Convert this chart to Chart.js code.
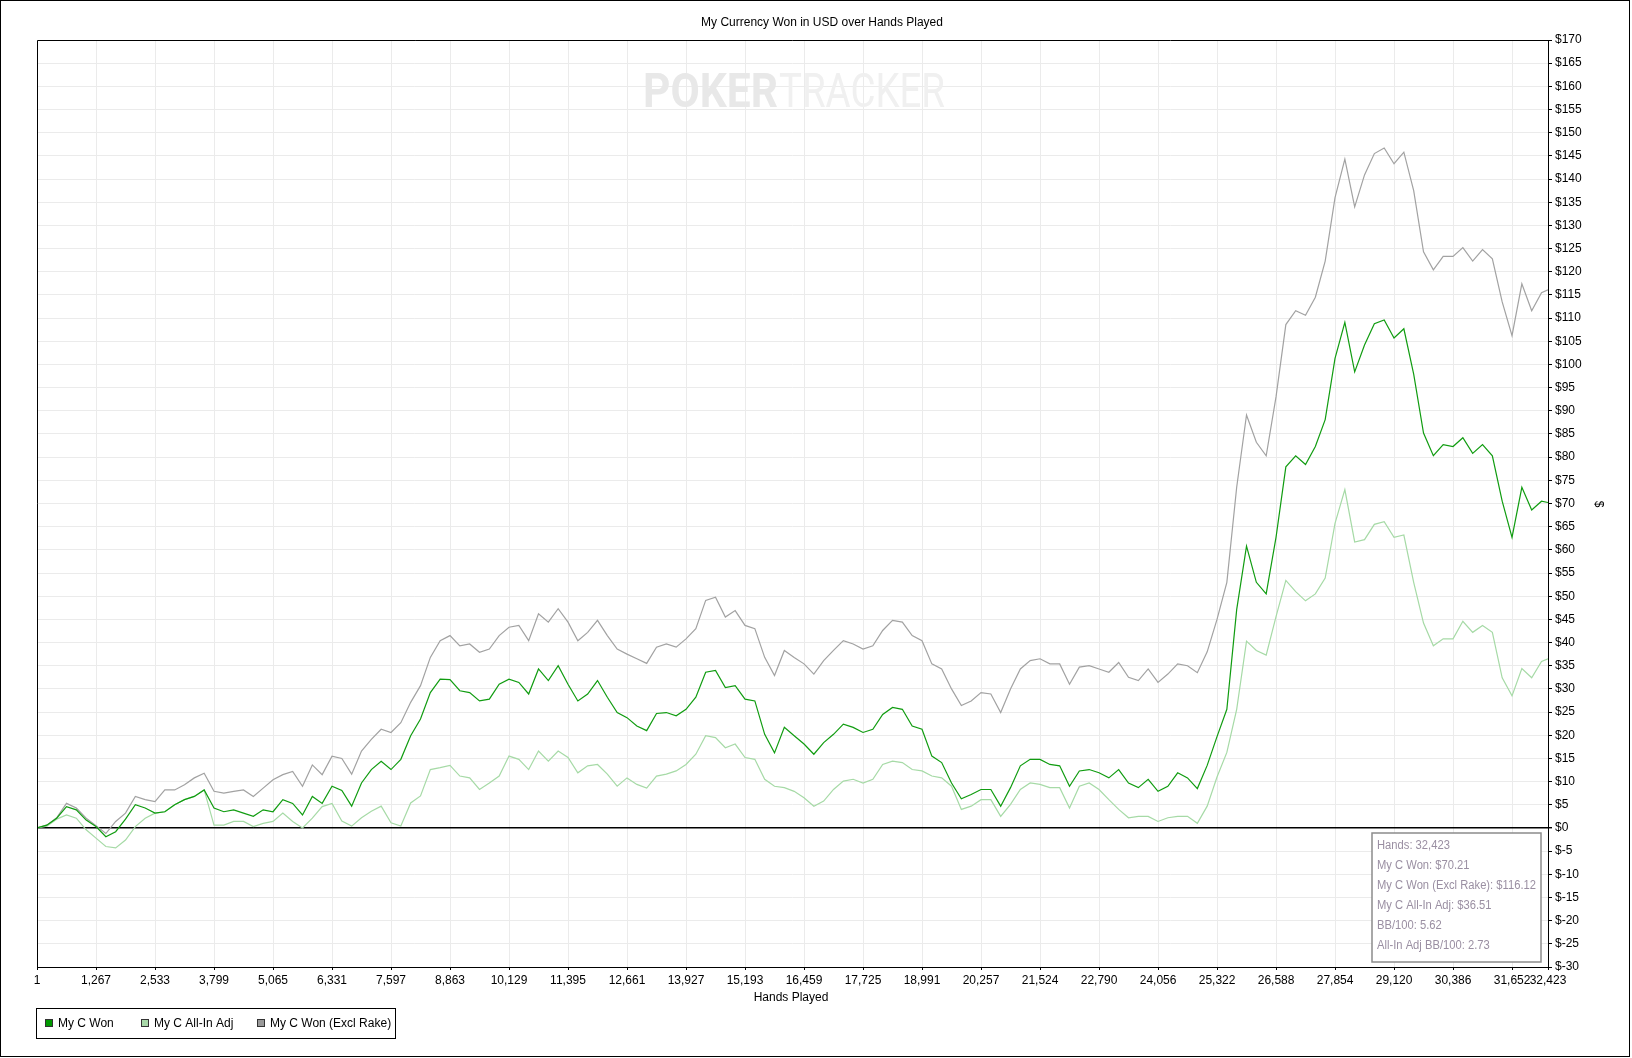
<!DOCTYPE html>
<html lang="en">
<head>
  <meta charset="UTF-8" />
  <title>My Currency Won in USD over Hands Played</title>
  <script src="https://cdn.jsdelivr.net/npm/chart.js"></script>
  <style>
    html, body { margin: 0; padding: 0; background: #fff; }
    #wrap { position: relative; width: 1632px; height: 1058px; }
  </style>
</head>
<body>
  <div id="wrap"><canvas id="chart"></canvas></div>

  <script>
    // hands are sampled every 211 hands, last point is the final hand
    const sampleStep = 211;
    const lastHand = 32423;

    const won = [
      0, 0.6, 2.1, 4.6, 3.9, 1.7, 0.3, -1.9, -0.8, 1.9,
      5.0, 4.3, 3.2, 3.5, 5.0, 6.1, 6.8, 8.2, 4.3, 3.5,
      3.9, 3.2, 2.5, 3.9, 3.5, 6.1, 5.3, 2.8, 6.8, 5.3,
      9.0, 8.1, 4.7, 9.7, 12.6, 14.4, 12.6, 14.8, 19.9, 23.5,
      29.2, 32.1, 32.0, 29.6, 29.2, 27.4, 27.8, 31.0, 32.1, 31.4,
      28.9, 34.3, 31.8, 35.0, 31.0, 27.4, 28.9, 31.8, 28.2, 24.9,
      23.8, 22.0, 21.0, 24.7, 24.9, 24.2, 25.6, 28.2, 33.6, 34.0,
      30.3, 30.7, 27.8, 27.4, 20.2, 16.2, 21.7, 19.9, 18.1, 15.9,
      18.4, 20.2, 22.4, 21.7, 20.6, 21.3, 24.5, 26.0, 25.6, 22.0,
      21.3, 15.5, 14.1, 9.7, 6.3, 7.2, 8.3, 8.3, 4.7, 8.7,
      13.4, 14.8, 14.8, 13.7, 13.4, 9.0, 12.3, 12.6, 11.9, 10.8,
      12.6, 9.7, 8.7, 10.5, 7.9, 9.0, 11.9, 10.8, 8.5, 13.5,
      19.7, 25.6, 47.1, 60.8, 53.0, 50.5, 62.7, 77.9, 80.3, 78.4,
      82.3, 88.1, 101.3, 109.1, 98.4, 104.2, 108.8, 109.6, 105.7, 107.7,
      97.9, 85.2, 80.3, 82.7, 82.3, 84.2, 80.8, 82.7, 80.3, 70.5,
      62.7, 73.5, 68.6, 70.5, 70.21
    ];

    const allInAdj = [
      0, 0.4, 1.9, 2.8, 2.1, -0.4, -2.2, -4.0, -4.3, -2.6,
      0.3, 2.1, 3.2, 3.5, 5.0, 6.1, 6.8, 8.2, 0.6, 0.6,
      1.4, 1.4, 0.3, 1.0, 1.4, 3.2, 1.4, 0.0, 2.1, 4.6,
      5.3, 1.5, 0.4, 2.2, 3.6, 4.7, 1.1, 0.4, 5.4, 6.9,
      12.6, 13.0, 13.5, 11.2, 10.8, 8.3, 9.7, 11.2, 15.5, 14.8,
      12.6, 16.6, 14.4, 16.6, 15.2, 11.9, 13.4, 13.7, 11.6, 9.0,
      10.8, 9.4, 8.6, 11.2, 11.6, 12.3, 13.7, 15.9, 19.9, 19.5,
      17.3, 18.1, 15.2, 14.8, 10.5, 9.0, 8.7, 7.9, 6.5, 4.7,
      5.8, 8.3, 10.1, 10.5, 9.7, 10.5, 13.7, 14.4, 14.1, 12.6,
      12.3, 11.2, 10.8, 9.0, 4.0, 4.7, 6.1, 6.1, 2.5, 5.1,
      8.3, 9.7, 9.4, 8.7, 8.7, 4.3, 9.0, 9.7, 8.3, 6.1,
      4.0, 2.2, 2.5, 2.5, 1.4, 2.2, 2.5, 2.5, 1.0, 4.7,
      11.0, 16.3, 25.6, 40.3, 38.3, 37.3, 45.6, 53.4, 51.0, 49.0,
      50.5, 53.9, 65.7, 73.0, 61.7, 62.2, 65.5, 66.1, 62.7, 63.2,
      53.0, 44.2, 39.3, 40.8, 40.8, 44.6, 42.2, 43.7, 42.2, 32.4,
      28.5, 34.4, 32.4, 35.9, 36.51
    ];

    const wonExclRake = [
      0, 0.6, 2.2, 5.3, 4.3, 2.1, 0.5, -1.2, 1.4, 3.2,
      6.8, 6.1, 5.7, 8.2, 8.2, 9.3, 10.8, 11.8, 7.9, 7.5,
      7.9, 8.2, 6.8, 8.6, 10.4, 11.5, 12.2, 9.0, 13.6, 11.5,
      15.5, 15.0, 11.6, 16.6, 19.1, 21.3, 20.6, 22.7, 27.1, 30.7,
      36.8, 40.4, 41.5, 39.3, 39.7, 37.9, 38.6, 41.5, 43.3, 43.7,
      40.4, 46.2, 44.4, 47.3, 44.4, 40.4, 42.2, 44.8, 41.5, 38.6,
      37.5, 36.5, 35.5, 39.0, 39.7, 39.0, 40.8, 43.0, 49.1, 49.8,
      45.5, 46.9, 43.7, 43.0, 36.8, 32.9, 38.3, 36.8, 35.4, 33.2,
      36.1, 38.3, 40.4, 39.7, 38.6, 39.3, 42.6, 44.8, 44.4, 41.5,
      40.4, 35.4, 34.3, 30.0, 26.4, 27.4, 29.2, 28.9, 24.9, 30.0,
      34.3, 36.1, 36.5, 35.4, 35.4, 31.0, 34.7, 35.0, 34.3, 33.6,
      35.7, 32.5, 31.8, 34.3, 31.4, 33.2, 35.4, 35.0, 33.5, 38.0,
      45.0, 53.0, 73.5, 89.1, 83.2, 80.3, 93.0, 108.6, 111.6, 110.6,
      114.5, 122.3, 136.0, 144.3, 134.0, 140.9, 145.5, 146.7, 143.3, 145.8,
      137.5, 124.3, 120.4, 123.3, 123.3, 125.2, 122.3, 124.8, 122.8, 113.5,
      106.2, 117.4, 111.6, 115.5, 116.12
    ];

    const xTickValues = [1, 1267, 2533, 3799, 5065, 6331, 7597, 8863, 10129, 11395, 12661, 13927, 15193,
      16459, 17725, 18991, 20257, 21524, 22790, 24056, 25322, 26588, 27854, 29120, 30386, 31652, 32423];
    const xTickLabels = ['1', '1,267', '2,533', '3,799', '5,065', '6,331', '7,597', '8,863', '10,129', '11,395',
      '12,661', '13,927', '15,193', '16,459', '17,725', '18,991', '20,257', '21,524', '22,790', '24,056',
      '25,322', '26,588', '27,854', '29,120', '30,386', '31,652', '32,423'];

    const yMin = -30, yMax = 170, yStep = 5;

    const seriesNames = ['My C Won', 'My C All-In Adj', 'My C Won (Excl Rake)'];
    const seriesColors = ['#109c10', '#a6daa6', '#a2a2a2'];
    const legendFill = ['#009900', '#a8d8a8', '#999999'];

    const statsLines = [
      'Hands: 32,423',
      'My C Won: $70.21',
      'My C Won (Excl Rake): $116.12',
      'My C All-In Adj: $36.51',
      'BB/100: 5.62',
      'All-In Adj BB/100: 2.73'
    ];

    const FONT = "'Liberation Sans', Arial, sans-serif";

    const hands = won.map((_, i) => i < won.length - 1 ? 1 + i * sampleStep : lastHand);
    const toPoints = arr => arr.map((v, i) => ({ x: hands[i], y: v }));

    const yTickValues = [];
    for (let v = yMin; v <= yMax; v += yStep) yTickValues.push(v);

    const decor = {
      id: 'decor',
      beforeDraw(chart) {
        const ctx = chart.ctx;
        ctx.save();
        ctx.fillStyle = '#fff';
        ctx.fillRect(0, 0, chart.width, chart.height);
        ctx.restore();
      },
      beforeDatasetsDraw(chart) {
        // watermark
        const ctx = chart.ctx;
        ctx.save();
        ctx.textBaseline = 'alphabetic';
        ctx.font = 'bold 49px Roboto';
        const w1 = ctx.measureText('POKER').width;
        ctx.save();
        ctx.translate(643, 107);
        ctx.scale(135 / w1, 1);
        ctx.fillStyle = '#e8e8e8';
        ctx.fillText('POKER', 0, 0);
        ctx.restore();
        ctx.font = '49px Roboto';
        const w2 = ctx.measureText('TRACKER').width;
        ctx.translate(779, 107);
        ctx.scale(166 / w2, 1);
        ctx.fillStyle = '#f0f0f0';
        ctx.fillText('TRACKER', 0, 0);
        ctx.restore();
      },
      afterDraw(chart) {
        const ctx = chart.ctx;
        const a = chart.chartArea;
        ctx.save();

        // outer frame
        ctx.strokeStyle = '#000';
        ctx.lineWidth = 1;
        ctx.strokeRect(0.5, 0.5, 1629, 1056);

        // plot top & left border
        ctx.beginPath();
        ctx.moveTo(Math.round(a.left) + 0.5, Math.round(a.bottom));
        ctx.lineTo(Math.round(a.left) + 0.5, Math.round(a.top) + 0.5);
        ctx.lineTo(Math.round(a.right), Math.round(a.top) + 0.5);
        ctx.stroke();

        ctx.fillStyle = '#000';
        ctx.font = '12px ' + FONT;
        ctx.textAlign = 'center';
        ctx.textBaseline = 'middle';
        ctx.fillText('My Currency Won in USD over Hands Played', 822, 23);
        ctx.fillText('Hands Played', 791, 998);

        ctx.save();
        ctx.translate(1598, 504);
        ctx.rotate(Math.PI / 2);
        ctx.fillText('$', 0, 0);
        ctx.restore();

        // stats box
        ctx.fillStyle = '#fff';
        ctx.fillRect(1372, 833, 169, 129);
        ctx.strokeStyle = '#8c8c8c';
        ctx.lineWidth = 1.5;
        ctx.strokeRect(1372, 833, 169, 129);
        ctx.fillStyle = '#9a8fa2';
        ctx.textAlign = 'left';
        const longest = Math.max(...statsLines.map(t => ctx.measureText(t).width));
        const sx = Math.min(1, 159 / longest);
        statsLines.forEach((t, i) => {
          ctx.save();
          ctx.translate(1377, 846 + i * 20);
          ctx.scale(sx, 1);
          ctx.fillText(t, 0, 0);
          ctx.restore();
        });

        // legend
        ctx.lineWidth = 1;
        ctx.strokeStyle = '#000';
        ctx.strokeRect(36.5, 1008.5, 359, 30);
        const markX = [45, 141, 257];
        seriesNames.forEach((name, i) => {
          ctx.fillStyle = legendFill[i];
          ctx.fillRect(markX[i], 1019, 8, 8);
          ctx.strokeStyle = '#333';
          ctx.strokeRect(markX[i] + 0.5, 1019.5, 7, 7);
          ctx.fillStyle = '#000';
          ctx.fillText(name, markX[i] + 13, 1024);
        });

        ctx.restore();
      }
    };

    new Chart(document.getElementById('chart'), {
      type: 'line',
      data: {
        datasets: [
          { label: seriesNames[0], data: toPoints(won), borderColor: seriesColors[0] },
          { label: seriesNames[1], data: toPoints(allInAdj), borderColor: seriesColors[1] },
          { label: seriesNames[2], data: toPoints(wonExclRake), borderColor: seriesColors[2] }
        ]
      },
      options: {
        responsive: true,
        maintainAspectRatio: false,
        animation: false,
        font: { family: FONT, size: 12 },
        layout: { padding: { left: 37, top: 40, right: 0, bottom: 0 } },
        elements: {
          point: { radius: 0 },
          line: { borderWidth: 1.2, tension: 0, fill: false }
        },
        plugins: {
          legend: { display: false },
          title: { display: false },
          tooltip: { enabled: false }
        },
        scales: {
          x: {
            type: 'linear',
            min: 1,
            max: lastHand,
            afterBuildTicks: s => { s.ticks = xTickValues.map(v => ({ value: v })); },
            afterFit: s => { s.height = 91; },
            ticks: {
              autoSkip: false,
              maxRotation: 0,
              minRotation: 0,
              color: '#000',
              padding: 3,
              font: { family: FONT, size: 12 },
              callback: (v, i) => xTickLabels[i]
            },
            grid: { color: '#ebebeb', tickColor: '#000', tickLength: 3 },
            border: { color: '#000', width: 1 }
          },
          y: {
            position: 'right',
            min: yMin,
            max: yMax,
            afterBuildTicks: s => { s.ticks = yTickValues.map(v => ({ value: v })); },
            afterFit: s => { s.width = 84; },
            ticks: {
              color: '#000',
              padding: 3,
              font: { family: FONT, size: 12 },
              callback: v => '$' + v
            },
            grid: {
              color: c => (c.tick && c.tick.value === 0) ? '#000' : '#ebebeb',
              lineWidth: c => (c.tick && c.tick.value === 0) ? 1.4 : 1,
              tickColor: '#000',
              tickLength: 4
            },
            border: { color: '#000', width: 1 }
          }
        }
      },
      plugins: [decor]
    });
  </script>
</body>
</html>
